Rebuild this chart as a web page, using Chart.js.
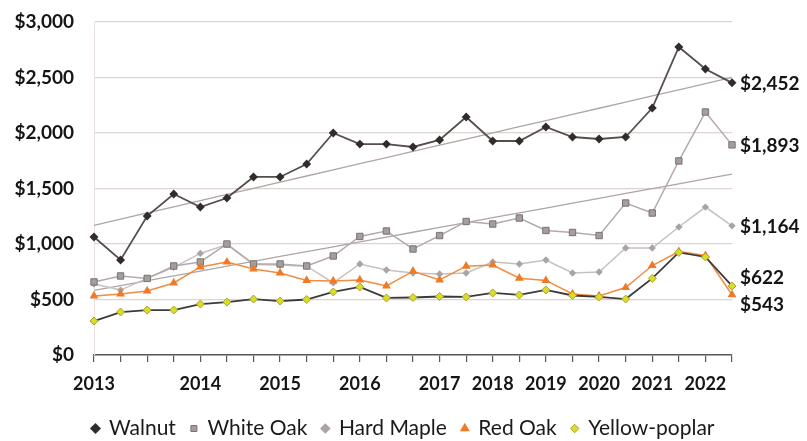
<!DOCTYPE html>
<html>
<head>
<meta charset="utf-8">
<script src="https://cdn.jsdelivr.net/npm/chart.js@4.4.0/dist/chart.umd.min.js"></script>
<style>
  html, body { margin: 0; padding: 0; background: #fff; }
  #wrap { width: 807px; height: 441px; position: relative; }
</style>
</head>
<body>
<div id="wrap"><canvas id="priceChart"></canvas></div>
<script>
// ===== Data =====
const periods = ['2013', '', '', '', '2014', '', '', '2015', '', '', '2016', '', '', '2017', '',
  '2018', '', '2019', '', '2020', '', '2021', '', '2022', ''];

const walnut = [1063, 856, 1252, 1450, 1333, 1414, 1604, 1604, 1720, 2000, 1900, 1900, 1874,
  1937, 2144, 1928, 1928, 2054, 1964, 1946, 1964, 2225, 2775, 2577, 2452];
const whiteOak = [658, 712, 690, 802, 838, 1000, 820, 820, 802, 892, 1068, 1117, 955,
  1076, 1203, 1180, 1234, 1122, 1104, 1076, 1369, 1279, 1748, 2189, 1893];
const hardMaple = [640, 585, 690, 790, 915, 995, 815, 810, 800, 649, 820, 766, 739,
  730, 739, 838, 820, 856, 739, 748, 964, 964, 1153, 1333, 1164];
const redOak = [532, 550, 577, 649, 793, 838, 775, 739, 672, 667, 676, 622, 755,
  676, 800, 811, 692, 672, 550, 532, 608, 806, 932, 896, 543];
const yellowPoplar = [306, 387, 405, 405, 459, 477, 504, 486, 500, 568, 613, 514, 518,
  527, 523, 559, 541, 586, 536, 523, 504, 690, 924, 883, 622];

const yTicks = [0, 500, 1000, 1500, 2000, 2500, 3000];

const FONT = 'Lato, "Open Sans", sans-serif';
const money = v => '$' + Math.round(v).toLocaleString('en-US');

// least squares trend line, like the spreadsheet trendline
function trend(values) {
  const n = values.length;
  const mx = (n - 1) / 2;
  const my = values.reduce((a, b) => a + b, 0) / n;
  let num = 0, den = 0;
  values.forEach((v, i) => { num += (i - mx) * (v - my); den += (i - mx) * (i - mx); });
  const slope = num / den;
  return values.map((v, i) => my + slope * (i - mx));
}

// ===== End-of-line value labels =====
const endLabels = {
  id: 'endLabels',
  afterDatasetsDraw(chart) {
    const ctx = chart.ctx;
    const items = [];
    chart.data.datasets.forEach((ds, i) => {
      if (ds.isTrend) return;
      const meta = chart.getDatasetMeta(i);
      const pt = meta.data[meta.data.length - 1];
      items.push({ x: pt.x, y: pt.y, text: money(ds.data[ds.data.length - 1]) });
    });
    items.sort((a, b) => a.y - b.y);
    // push labels apart if they crowd each other
    const gap = 27;
    for (let k = 1; k < items.length; k++) {
      const d = items[k].y - items[k - 1].y;
      if (d < gap) {
        const shift = (gap - d) / 2;
        items[k - 1].y -= shift;
        items[k].y += shift;
      }
    }
    ctx.save();
    ctx.font = 'bold 19px ' + FONT;
    ctx.fillStyle = '#151515';
    ctx.textAlign = 'left';
    ctx.textBaseline = 'middle';
    items.forEach(it => ctx.fillText(it.text, it.x + 8, it.y + 1));
    ctx.restore();
  }
};

const ctx = document.getElementById('priceChart').getContext('2d');
const chart = new Chart(ctx, {
  type: 'line',
  data: {
    labels: periods,
    datasets: [
      {
        label: 'Walnut', data: walnut, order: 1,
        borderColor: '#564d4d', borderWidth: 1.8,
        pointStyle: 'rectRot', pointRadius: 3.2,
        pointBackgroundColor: '#332c2c', pointBorderColor: '#332c2c'
      },
      {
        label: 'White Oak', data: whiteOak, order: 3,
        borderColor: '#b3abab', borderWidth: 1.5,
        pointStyle: 'rect', pointRadius: 4.5,
        pointBackgroundColor: '#a69e9e', pointBorderColor: '#7a7272', pointBorderWidth: 1
      },
      {
        label: 'Hard Maple', data: hardMaple, order: 4,
        borderColor: '#c6c0c0', borderWidth: 1.5,
        pointStyle: 'rectRot', pointRadius: 2.6,
        pointBackgroundColor: '#aaa4a4', pointBorderColor: '#aaa4a4'
      },
      {
        label: 'Red Oak', data: redOak, order: 2,
        borderColor: '#f28c40', borderWidth: 1.5,
        pointStyle: 'triangle', pointRadius: 3.6,
        pointBackgroundColor: '#f07a26', pointBorderColor: '#f07a26'
      },
      {
        label: 'Yellow-poplar', data: yellowPoplar, order: 0,
        borderColor: '#3a3a3a', borderWidth: 1.8,
        pointStyle: 'rectRot', pointRadius: 4,
        pointBackgroundColor: '#dcdc22', pointBorderColor: '#a3a33a', pointBorderWidth: 1
      },
      {
        label: 'Walnut trend', data: trend(walnut), isTrend: true, order: 6,
        borderColor: '#aea5a5', borderWidth: 1.3, pointRadius: 0
      },
      {
        label: 'White Oak trend', data: trend(whiteOak), isTrend: true, order: 6,
        borderColor: '#aea5a5', borderWidth: 1.3, pointRadius: 0
      }
    ]
  },
  options: {
    responsive: true,
    maintainAspectRatio: false,
    animation: false,
    layout: { padding: { top: 22, left: 0, right: 0, bottom: -8 } },
    elements: { line: { tension: 0 } },
    plugins: {
      tooltip: { enabled: false },
      legend: {
        position: 'bottom',
        labels: {
          font: { family: FONT, size: 21 },
          color: '#1a1a1a',
          usePointStyle: true,
          boxHeight: 6,
          boxWidth: 6,
          padding: 15,
          filter: item => !item.text.includes('trend'),
          sort: (a, b) => a.datasetIndex - b.datasetIndex
        }
      }
    },
    scales: {
      x: {
        offset: false,
        grid: { display: true, drawOnChartArea: false, drawTicks: true, tickLength: 7, color: '#5a5a5a', lineWidth: 1.2 },
        border: { display: true, color: '#5a5a5a', width: 1.5 },
        ticks: {
          autoSkip: false, maxRotation: 0, padding: 11,
          font: { family: FONT, size: 18, weight: 'bold' }, color: '#151515'
        },
        afterFit: s => { s.height = 48; }
      },
      y: {
        min: 0, max: 3000,
        afterBuildTicks: s => { s.ticks = yTicks.map(v => ({ value: v })); },
        grid: { color: '#ddd3d0', lineWidth: 1.2, drawTicks: false },
        border: { display: true, color: '#e8e0de', width: 1 },
        ticks: {
          padding: 20,
          callback: v => money(v),
          font: { family: FONT, size: 19, weight: 'bold' }, color: '#151515'
        },
        afterFit: s => {
          s.width = 94;
          // label padding is horizontal only here, keep the vertical overflow small
          s.paddingTop = 10;
          s.paddingBottom = 10;
        }
      },
      yRight: {
        position: 'right',
        display: true,
        grid: { display: false },
        border: { display: false },
        ticks: { display: false },
        afterFit: s => { s.width = 75; }
      }
    }
  },
  plugins: [endLabels]
});
</script>
</body>
</html>
